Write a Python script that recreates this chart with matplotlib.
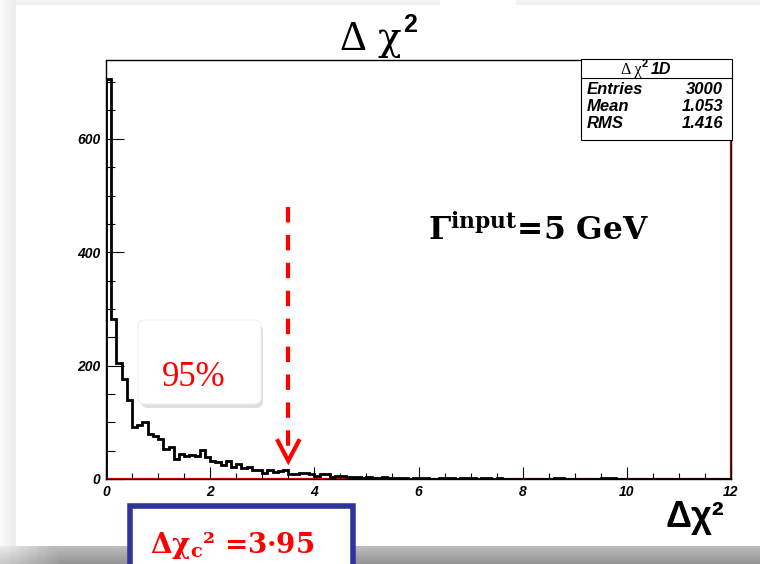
import numpy as np
import matplotlib
matplotlib.use("Agg")
import matplotlib.pyplot as plt
from matplotlib.patches import Rectangle, FancyBboxPatch

plt.rcParams["mathtext.fontset"] = "custom"
plt.rcParams["mathtext.rm"] = "DejaVu Serif"
plt.rcParams["mathtext.bf"] = "DejaVu Serif:bold"
plt.rcParams["mathtext.it"] = "DejaVu Serif:italic"

# histogram of delta chi2, 120 bins of width 0.1 on [0, 12]
bin_edges = np.linspace(0.0, 12.0, 121)
counts = [
    706, 283, 205, 176, 139, 92, 95, 101, 80, 75,
    71, 53, 56, 36, 44, 41, 42, 40, 52, 38,
    32, 30, 25, 31, 21, 26, 19, 21, 15, 16,
    11, 16, 12, 14, 15, 9, 8, 10, 10, 9,
    5, 8, 8, 4, 5, 5, 4, 3, 4, 2,
    3, 2, 1, 3, 2, 1, 2, 1, 0, 2,
    1, 1, 0, 0, 1, 1, 1, 0, 1, 1,
    1, 0, 1, 1, 0, 1, 0, 0, 0, 0,
    0, 0, 0, 0, 0, 0, 1, 1, 0, 0,
    0, 0, 0, 0, 0, 1, 1, 1, 0, 0,
    0, 0, 0, 0, 0, 0, 0, 0, 0, 0,
    0, 0, 0, 0, 0, 0, 0, 0, 0, 0,
]
stat_names = ["Entries", "Mean", "RMS"]
stat_values = ["3000", "1.053", "1.416"]
x_ticks = [0, 2, 4, 6, 8, 10, 12]
y_ticks = [0, 200, 400, 600]
cut_x = 3.5          # where the 95% arrow points
arrow_top = 480
arrow_tip = 32
cut_label = r"$\mathbf{\Delta\chi_c}$² =3·95"
width_label = r"$\mathbf{\Gamma^{input}}$=5 GeV"

W, H = 760, 564
fig = plt.figure(figsize=(W / 100, H / 100), dpi=100)
renderer = fig.canvas.get_renderer()

# slide background: white panel with soft shadows
bg = fig.add_axes([0, 0, 1, 1], zorder=0)
bg.set_xlim(0, W)
bg.set_ylim(H, 0)
bg.axis("off")
bg.add_patch(Rectangle((0, 0), W, H, color="#f0f0f0", zorder=0))
left_fade = np.linspace(0.98, 0.92, 16)[None, :]
bg.imshow(np.repeat(left_fade, 2, axis=0), cmap="gray", vmin=0, vmax=1,
          extent=(0, 16, 546, 0), aspect="auto", zorder=1)
top_fade = np.linspace(0.96, 0.93, 6)[:, None] * np.ones((1, 2))
bg.imshow(top_fade, cmap="gray", vmin=0, vmax=1, extent=(16, W, 5, 0), aspect="auto", zorder=1)
bg.add_patch(Rectangle((16, 5), W - 16, 541, color="white", zorder=2))
bg.add_patch(Rectangle((440, 0), 75, 6, color="white", zorder=2))
band = np.linspace(0.74, 0.58, 20)[:, None] * np.ones((1, 80))
band[:, :6] = np.linspace(0.92, 0.74, 6)[None, :] * np.linspace(1.0, 0.85, 20)[:, None]
bg.imshow(band, cmap="gray", vmin=0, vmax=1, extent=(0, W, H, 546), aspect="auto", zorder=3)
bg.set_xlim(0, W)
bg.set_ylim(H, 0)

# main histogram frame
ax = fig.add_axes([106 / W, (H - 479) / H, 625 / W, 419 / H], zorder=1)
ax.set_xlim(0, 12)
ax.set_ylim(0, 739)
ax.axhline(0, color="red", lw=1.6, zorder=1)
ax.axvline(12, color="#cc0000", lw=1.6, zorder=1)
ax.stairs(counts, bin_edges, color="black", lw=2.0, baseline=0, zorder=2)

for sp in ax.spines.values():
    sp.set_linewidth(1.0)
ax.set_xticks(x_ticks)
ax.set_yticks(y_ticks)
ax.set_xticks(np.arange(0, 12.01, 0.5), minor=True)
ax.set_yticks(np.arange(0, 739, 50), minor=True)
tick_font = dict(family="Liberation Sans", weight="bold", style="italic", size=10)
ax.set_xticklabels([str(v) for v in x_ticks], fontdict=tick_font)
ax.set_yticklabels([str(v) for v in y_ticks], fontdict=tick_font)
ax.tick_params(axis="x", which="major", direction="in", length=8.6, width=0.8, pad=4)
ax.tick_params(axis="x", which="minor", direction="in", length=4.3, width=0.8)
ax.tick_params(axis="y", which="major", direction="in", length=13, width=0.8, pad=4)
ax.tick_params(axis="y", which="minor", direction="in", length=6.5, width=0.8)

# red dashed arrow down to the 95% cut
ax.plot([cut_x, cut_x], [arrow_top, arrow_tip + 12], color="red", lw=3,
        linestyle=(0, (3.7, 3.0)), solid_capstyle="butt", zorder=3)
ax.plot([cut_x - 0.2, cut_x, cut_x + 0.2], [arrow_tip + 35, arrow_tip, arrow_tip + 35],
        color="red", lw=3, solid_joinstyle="miter", zorder=3)

# overlay in pixel coordinates for the text boxes
ov = fig.add_axes([0, 0, 1, 1], zorder=3)
ov.set_xlim(0, W)
ov.set_ylim(H, 0)
ov.axis("off")
ov.patch.set_alpha(0)


def right_px(t):
    # right edge of a text object, in overlay x units
    bb = t.get_window_extent(renderer)
    return bb.x1


# title
t = ov.text(340, 50, "Δ ", family="Liberation Serif", size=30, ha="left", va="baseline")
t = ov.text(right_px(t) + 2, 50, "χ", family="DejaVu Serif", size=28, ha="left", va="baseline")
ov.text(right_px(t) + 2, 32, "2", family="Liberation Sans", weight="bold", size=18,
        ha="left", va="baseline")

# stats box
ov.add_patch(Rectangle((581, 59), 151, 81, facecolor="white", edgecolor="black", lw=0.8))
ov.plot([581, 732], [78, 78], color="black", lw=0.8)
t = ov.text(621, 74, "Δ χ", family="Liberation Serif", size=11.5, ha="left", va="baseline")
x2 = right_px(t)
ov.text(x2 + 0.5, 67, "2", family="Liberation Sans", weight="bold", size=8, ha="left", va="baseline")
ov.text(x2 + 9, 74, "1D", family="Liberation Sans", weight="bold", style="italic", size=11.5,
        ha="left", va="baseline")
stat_font = dict(family="Liberation Sans", weight="bold", style="italic", size=12)
for i, (name, val) in enumerate(zip(stat_names, stat_values)):
    yb = 94 + 17 * i
    ov.text(587, yb, name, ha="left", va="baseline", **stat_font)
    ov.text(723, yb, val, ha="right", va="baseline", **stat_font)

# width annotation
ov.text(428, 241, width_label, family="DejaVu Serif", weight="bold", size=22.5,
        ha="left", va="baseline")

# 95% callout with shadow
ov.add_patch(FancyBboxPatch((141, 324), 122, 84, boxstyle="round,pad=0,rounding_size=7",
                            facecolor="#c8c8c8", edgecolor="none", alpha=0.6))
ov.add_patch(FancyBboxPatch((138, 320), 123, 84, boxstyle="round,pad=0,rounding_size=7",
                            facecolor="white", edgecolor="#f0f0f0", lw=0.8))
ov.text(194, 386, "95%", family="Liberation Serif", color="red", size=25,
        ha="center", va="baseline")

# x axis title
ov.text(724, 527, "Δχ²", family="Liberation Sans", weight="bold", size=26,
        ha="right", va="baseline")

# critical value box
ov.add_patch(Rectangle((130, 506), 223, 70, facecolor="white", edgecolor="#30339a", lw=4))
ov.text(150, 553, cut_label, family="DejaVu Serif", weight="bold", color="red", size=20,
        ha="left", va="baseline")

fig.savefig("out.png", dpi=100)
